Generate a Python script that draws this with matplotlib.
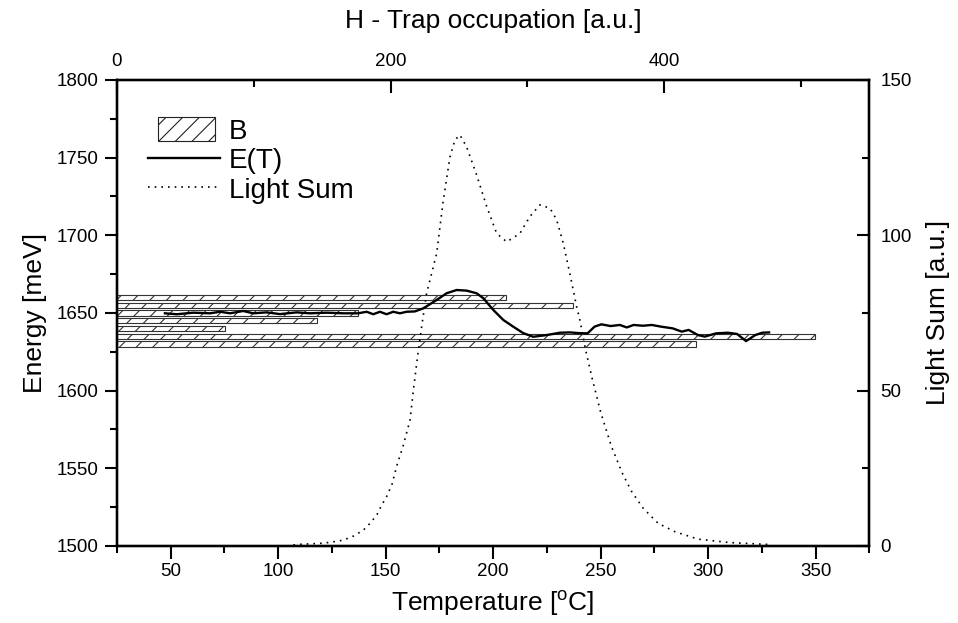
import matplotlib
matplotlib.use('Agg')
import matplotlib.pyplot as plt
from matplotlib.ticker import MultipleLocator
from matplotlib.patches import Patch, Rectangle
from matplotlib.lines import Line2D
from matplotlib.legend_handler import HandlerPatch

plt.rcParams['font.family'] = ['Liberation Sans', 'DejaVu Sans']
plt.rcParams['mathtext.fontset'] = 'custom'
plt.rcParams['mathtext.rm'] = 'Liberation Sans'
plt.rcParams['hatch.linewidth'] = 0.8

# B - trap occupation histogram (top axis H, left axis energy)
bar_energy = [1660, 1655, 1650, 1645, 1640, 1635, 1630]
bar_occup = [284, 333, 176, 146.5, 78.6, 510, 423.5]

# E(T) curve
temp_e = [47.3, 52.8, 60.5, 68.3, 72.9, 77.6, 83.7, 88.4, 94.6, 100.8, 108.6, 114.8,
          122.5, 130.3, 137.2, 141.1, 144.2, 147.3, 150.4, 153.5, 156.6, 159.7, 163.5,
          167.5, 173.7, 178.3, 183.0, 187.6, 192.3, 195.4, 200.0, 204.7, 209.3, 214.0,
          218.6, 224.9, 231.0, 235.7, 240.3, 243.9, 247.1, 250.3, 254.6, 258.9, 262.1,
          265.3, 269.6, 273.8, 278.1, 283.5, 287.7, 290.9, 295.2, 298.4, 303.7, 309.1,
          313.4, 317.6, 321.9, 325.1, 328.3]
energy = [1649.8, 1649.2, 1650.2, 1649.8, 1650.8, 1649.8, 1651.3, 1649.8, 1650.4, 1649.3,
          1650.4, 1649.8, 1650.2, 1649.8, 1649.8, 1650.8, 1649.2, 1650.8, 1649.2, 1650.8,
          1649.8, 1650.8, 1651.0, 1653.0, 1658.4, 1662.7, 1664.8, 1664.4, 1662.7, 1659.5,
          1652.0, 1645.5, 1641.2, 1637.0, 1634.7, 1635.8, 1637.3, 1637.5, 1637.0, 1636.9,
          1641.2, 1642.7, 1641.6, 1642.3, 1640.7, 1642.3, 1641.8, 1642.3, 1641.2, 1640.1,
          1638.0, 1639.1, 1635.8, 1634.8, 1636.9, 1637.3, 1636.5, 1631.9, 1635.8, 1637.3,
          1637.5]

# Light sum (right axis)
temp_ls = [104, 108.6, 115, 121, 126, 130.3, 135, 139.6, 143, 146, 148, 150.4, 153, 155,
           158, 161.3, 163, 165, 167, 169, 173.7, 176.8, 179.9, 182.2, 184.5, 187.6,
           192.3, 197, 201.6, 206.3, 212.4, 217, 221.7, 226.4, 229.5, 232.6, 235.6,
           238.8, 240.3, 243, 246, 250, 255, 260, 264.4, 269.8, 276.7, 284.5, 295.3,
           310, 328]
light_sum = [0, 0.5, 0.7, 0.9, 1.4, 1.9, 3.2, 5.1, 7.5, 10.2, 13, 15.9, 20, 25.5, 32,
             40.5, 51, 62, 72, 81.3, 94.2, 111.4, 125.3, 130.7, 132.3, 128.5, 119.4,
             109.2, 100.6, 97.9, 100.6, 106, 109.8, 108.7, 105, 97.4, 87.8, 77, 72.7,
             63, 54, 43, 32, 23.5, 17.5, 12.1, 7.3, 4.6, 2.2, 1.1, 0.5]

fig = plt.figure(figsize=(9.58, 6.23), dpi=100)
ax_h = fig.add_axes([0.1221, 0.1236, 0.7855, 0.748])
ax_t = ax_h.twiny()
ax_ls = ax_t.twinx()

ax_h.barh(bar_energy, bar_occup, height=3.5, left=0, facecolor='white',
          edgecolor='#333333', linewidth=0.8, hatch='//')
ax_t.plot(temp_e, energy, color='black', lw=1.7)
ax_ls.plot(temp_ls, light_sum, color='black', lw=1.2, linestyle=(0, (1, 3)))

ax_h.set_xlim(0, 550)
ax_h.set_ylim(1500, 1800)
ax_t.set_xlim(25, 375)
ax_ls.set_ylim(0, 150)

for a in (ax_h, ax_t, ax_ls):
    for s in a.spines.values():
        s.set_linewidth(1.6)

tick_fs = 13.5
label_fs = 19

# top axis: H
ax_h.xaxis.set_ticks_position('top')
ax_h.xaxis.set_label_position('top')
ax_h.xaxis.set_major_locator(MultipleLocator(200))
ax_h.xaxis.set_minor_locator(MultipleLocator(100))
ax_h.tick_params(axis='x', which='both', direction='in', width=1.5, labelsize=tick_fs, pad=7)
ax_h.tick_params(axis='x', which='major', length=9)
ax_h.tick_params(axis='x', which='minor', length=5)
ax_h.set_xlabel('H - Trap occupation [a.u.]', fontsize=label_fs, labelpad=18)

# left axis: energy
ax_h.yaxis.set_major_locator(MultipleLocator(50))
ax_h.yaxis.set_minor_locator(MultipleLocator(25))
ax_h.tick_params(axis='y', which='both', direction='out', width=1.5, labelsize=tick_fs, pad=4)
ax_h.tick_params(axis='y', which='major', length=9)
ax_h.tick_params(axis='y', which='minor', length=5)
ax_h.set_ylabel('Energy [meV]', fontsize=label_fs, labelpad=7)

# bottom axis: temperature
ax_t.xaxis.set_ticks_position('bottom')
ax_t.xaxis.set_label_position('bottom')
ax_t.xaxis.set_major_locator(MultipleLocator(50))
ax_t.xaxis.set_minor_locator(MultipleLocator(25))
ax_t.tick_params(axis='x', which='both', direction='out', width=1.5, labelsize=tick_fs, pad=3)
ax_t.tick_params(axis='x', which='major', length=9)
ax_t.tick_params(axis='x', which='minor', length=5)
ax_t.set_xlabel('Temperature [$^{\\rm o}$C]', fontsize=label_fs, labelpad=6)

# right axis: light sum
ax_ls.yaxis.set_major_locator(MultipleLocator(50))
ax_ls.yaxis.set_minor_locator(MultipleLocator(25))
ax_ls.tick_params(axis='y', which='both', direction='in', width=1.5, labelsize=tick_fs, pad=8)
ax_ls.tick_params(axis='y', which='major', length=9)
ax_ls.tick_params(axis='y', which='minor', length=5)
ax_ls.set_ylabel('Light Sum [a.u.]', fontsize=label_fs, labelpad=10)


def narrow_box(legend, orig_handle, xdescent, ydescent, width, height, fontsize):
    return Rectangle((-xdescent + 0.14 * width, -ydescent), 0.78 * width, height)


handles = [Patch(facecolor='white', edgecolor='#222222', hatch='//', lw=0.8),
           Line2D([], [], color='black', lw=1.7),
           Line2D([], [], color='black', lw=1.2, linestyle=(0, (1, 3)))]
ax_ls.legend(handles, ['B', 'E(T)', 'Light Sum'], loc='upper left',
             bbox_to_anchor=(0.023, 0.95), frameon=False, fontsize=20,
             handlelength=2.6, handleheight=0.95, handletextpad=0.3,
             labelspacing=0.08, borderpad=0,
             handler_map={Patch: HandlerPatch(patch_func=narrow_box)})

fig.savefig('out.png', dpi=100)
